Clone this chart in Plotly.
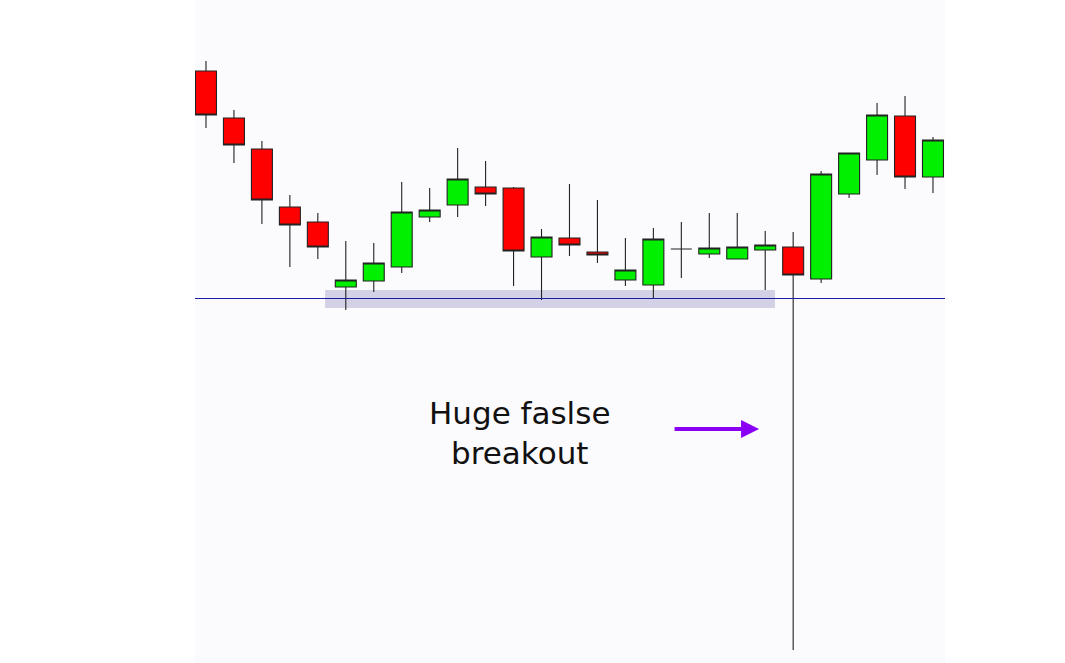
import plotly.graph_objects as go

# Candle data (price units), index 0..26
idx = list(range(27))
opens  = [592, 545, 514, 456, 441, 376, 382, 396, 446, 458, 476, 475, 406, 425, 411,
          383, 378, 414, 409, 404, 413, 416, 384, 469, 503, 547, 486]
highs  = [602, 553, 522, 468, 450, 422, 420, 481, 475, 515, 502, 476, 434, 479, 463,
          425, 435, 441, 450, 450, 432, 431, 492, 510, 560, 567, 526]
lows   = [535, 500, 439, 396, 404, 353, 371, 390, 441, 446, 457, 377, 363, 407, 400,
          377, 365, 385, 405, 404, 373, 13, 380, 465, 488, 474, 470]
closes = [548, 518, 463, 438, 416, 383, 400, 451, 453, 484, 469, 412, 426, 418, 408,
          393, 424, 414, 415, 416, 418, 388, 489, 510, 548, 486, 523]

support_level = 364.5
zone_low, zone_high = 355, 373
zone_start, zone_end = 4.26, 20.35
label_text = "Huge faslse<br>breakout"

fig = go.Figure()
fig.add_trace(go.Candlestick(
    x=idx, open=opens, high=highs, low=lows, close=closes,
    increasing=dict(fillcolor="#00f000", line=dict(color="#222222", width=1.1)),
    decreasing=dict(fillcolor="#ff0000", line=dict(color="#222222", width=1.1)),
    whiskerwidth=0, showlegend=False, hoverinfo="skip",
))

# support zone and line
fig.add_shape(type="rect", xref="x", yref="y", x0=zone_start, x1=zone_end,
              y0=zone_low, y1=zone_high, fillcolor="rgba(196,192,220,0.72)",
              line=dict(width=0), layer="below")
fig.add_shape(type="line", xref="paper", yref="y", x0=0, x1=1,
              y0=support_level, y1=support_level,
              line=dict(color="#1c1ca0", width=1), layer="above")

fig.add_annotation(x=11.23, y=230, xref="x", yref="y", text=label_text,
                   showarrow=False, font=dict(family="DejaVu Sans", size=31, color="#111111"),
                   align="center")
fig.add_annotation(x=19.78, y=234, xref="x", yref="y", text="",
                   showarrow=True, axref="pixel", ayref="pixel", ax=-86, ay=0,
                   arrowhead=2, arrowsize=0.9, arrowwidth=4, arrowcolor="#8a00f5",
                   standoff=0, startstandoff=0)

fig.update_layout(
    width=1065, height=663,
    margin=dict(l=195, r=120, t=0, b=0),
    paper_bgcolor="white", plot_bgcolor="#fbfbfd",
    boxgap=0.25, boxgroupgap=0,
    xaxis=dict(range=[-0.393, 26.43], visible=False, rangeslider=dict(visible=False),
               fixedrange=True),
    yaxis=dict(range=[0, 663], visible=False, fixedrange=True),
    showlegend=False,
)

fig.write_html("out.html", config={"displayModeBar": False},
               post_script="document.body.style.margin='0';")
